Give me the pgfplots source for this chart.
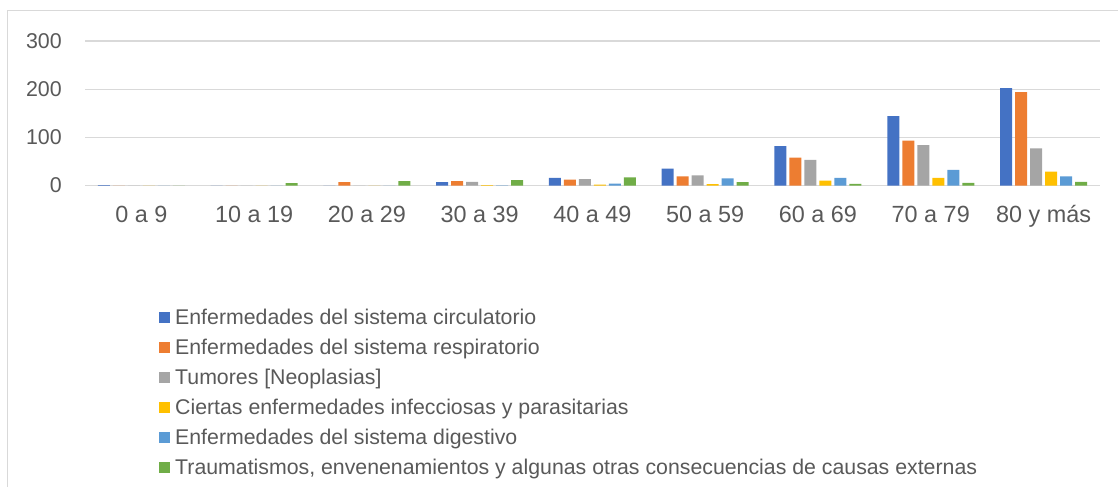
\documentclass[border=0pt]{standalone}
\usepackage{fontspec}
\setmainfont{Liberation Sans}
\usepackage{pgfplots}
\pgfplotsset{compat=1.18}

\definecolor{txt}{HTML}{595959}
\definecolor{gridc}{HTML}{D9D9D9}
\definecolor{c1}{HTML}{4472C4}
\definecolor{c2}{HTML}{ED7D31}
\definecolor{c3}{HTML}{A5A5A5}
\definecolor{c4}{HTML}{FFC000}
\definecolor{c5}{HTML}{5B9BD5}
\definecolor{c6}{HTML}{70AD47}

\pgfplotsset{sqleg/.style={legend image code/.code={\fill[##1] (0bp,-6.6bp) rectangle (11bp,4.4bp);}}}

\begin{document}
\begin{tikzpicture}
\path[use as bounding box] (0bp,0bp) rectangle (1118bp,-487bp);
\draw[gridc, line width=1bp] (7.5bp,-487bp) -- (7.5bp,-10.5bp) -- (1118bp,-10.5bp);
\begin{axis}[
    at={(85bp,-185.5bp)}, anchor=south west,
    width=1015bp, height=144.5bp, scale only axis,
    ybar=3bp, bar width=12bp,
    xmin=-0.5, xmax=8.5, ymin=0, ymax=300,
    enlargelimits=false,
    xtick={0,...,8},
    xticklabels={0 a 9, 10 a 19, 20 a 29, 30 a 39, 40 a 49, 50 a 59, 60 a 69, 70 a 79, 80 y más},
    ytick={0,100,200,300},
    ymajorgrids, grid style={draw=gridc, line width=1.2bp},
    axis line style={draw=none},
    major tick length=0pt,
    /pgf/number format/assume math mode=true,
    tick label style={text=txt, inner sep=0pt},
    yticklabel style={font=\fontsize{21.4bp}{25bp}\selectfont, anchor=east, xshift=-23bp},
    xticklabel style={font=\fontsize{23.4bp}{27bp}\selectfont, anchor=base, yshift=-37.2bp},
    legend style={at={(0.0732,-0.853)}, anchor=north west, draw=none, fill=none,
        inner sep=0pt, row sep=14.8bp,
        font=\fontsize{21.3bp}{25bp}\selectfont, text=txt,
        nodes={inner sep=0pt, text height=15.2bp, text depth=0bp},
        /tikz/every odd column/.append style={column sep=4.7bp}},
    legend cell align=left,
]
% rows: 0 a 9 ... 80 y mas
\addplot[fill=c1, draw=none, sqleg]
    coordinates {(0,1) (1,0) (2,0) (3,7) (4,16) (5,35) (6,82) (7,144) (8,202)};
\addplot[fill=c2, draw=none, sqleg]
    coordinates {(0,0) (1,0) (2,7) (3,9) (4,12) (5,19) (6,58) (7,93) (8,194)};
\addplot[fill=c3, draw=none, sqleg]
    coordinates {(0,0) (1,0) (2,0) (3,7.5) (4,13) (5,21) (6,53) (7,84) (8,77)};
\addplot[fill=c4, draw=none, sqleg]
    coordinates {(0,0) (1,0) (2,0) (3,1) (4,2) (5,3) (6,10) (7,16) (8,29)};
\addplot[fill=c5, draw=none, sqleg]
    coordinates {(0,0) (1,0) (2,0) (3,0.5) (4,4) (5,15) (6,16) (7,32.5) (8,19)};
\addplot[fill=c6, draw=none, sqleg]
    coordinates {(0,0) (1,5) (2,9) (3,11) (4,17) (5,7) (6,3.5) (7,5.5) (8,7.6)};
\legend{Enfermedades del sistema circulatorio,
    Enfermedades del sistema respiratorio,
    Tumores [Neoplasias],
    Ciertas enfermedades infecciosas y parasitarias,
    Enfermedades del sistema digestivo,
    {Traumatismos, envenenamientos y algunas otras consecuencias de causas externas}}
\end{axis}
\end{tikzpicture}
\end{document}
